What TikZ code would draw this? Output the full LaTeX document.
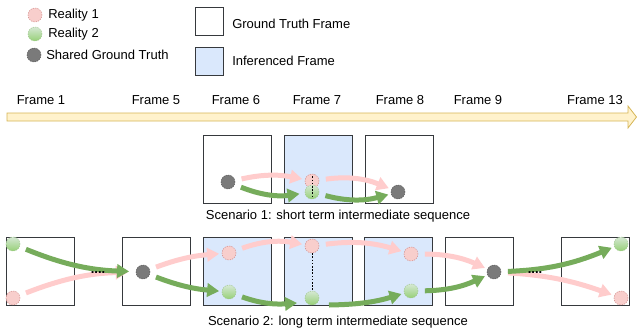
\documentclass[tikz,border=0pt]{standalone}
\usepackage{fontspec}
\setmainfont{Liberation Sans}
\usetikzlibrary{arrows.meta}
\definecolor{pinkF}{HTML}{F8CECC}
\definecolor{pinkS}{HTML}{D08A88}
\definecolor{greenF}{HTML}{D5E8D4}
\definecolor{greenD}{HTML}{97D077}
\definecolor{greenS}{HTML}{9CC58A}
\definecolor{darkF}{HTML}{7A7A7A}
\definecolor{darkS}{HTML}{555555}
\definecolor{blueF}{HTML}{DAE8FC}
\definecolor{frameS}{HTML}{36393D}
\definecolor{pinkA}{HTML}{FFCCCC}
\definecolor{greenA}{HTML}{76AC5B}
\definecolor{tlF}{HTML}{FFF2CC}
\definecolor{tlS}{HTML}{D6B656}
\tikzset{
  lbl/.style={font=\fontsize{9.75}{11.5}\selectfont, inner sep=0pt},
  dot/.style={circle, minimum size=10.5pt, inner sep=0pt, line width=0.4pt, dash pattern=on 0.9pt off 0.9pt},
  rone/.style={dot, fill=pinkF, draw=pinkS},
  rtwo/.style={dot, top color=greenF, bottom color=greenD, draw=greenS},
  shared/.style={dot, fill=darkF, draw=darkS},
  gtframe/.style={draw=frameS, fill=white, minimum size=51pt, inner sep=0pt, line width=0.75pt},
  inframe/.style={gtframe, fill=blueF},
  conn/.style={line width=3.75pt, -{Triangle[length=9pt,width=10pt]}, shorten <=5pt, shorten >=2pt},
  parrow/.style={conn, draw=pinkA},
  garrow/.style={conn, draw=greenA},
  link/.style={line width=0.6pt, dash pattern=on 1.2pt off 1.2pt, black},
  dots/.style={font=\fontsize{9.75}{11.5}\selectfont\bfseries, inner sep=0pt, anchor=base}
}
\begin{document}
\begin{tikzpicture}[x=0.75pt,y=0.75pt]
\useasboundingbox (0,0) rectangle (637,-333);
% legend
\node[rone] (lr1) at (35,-15) {};
\node[rtwo] (lr2) at (35,-34) {};
\node[shared] (lsh) at (34,-55) {};
\node[lbl, anchor=west] (tr1) at (48,-15) {Reality 1};
\node[lbl, anchor=west] (tr2) at (48,-34) {Reality 2};
\node[lbl, anchor=west] (tsh) at (46,-55) {Shared Ground Truth};
\node[gtframe, minimum size=21pt] (lgt) at (209.5,-21.5) {};
\node[inframe, minimum size=21pt] (lin) at (209.5,-61) {};
\node[lbl, anchor=west] (tgt) at (232,-24) {Ground Truth Frame};
\node[lbl, anchor=west] (tin) at (232,-61) {Inferenced Frame};
% timeline
\draw[fill=tlF, draw=tlS, line width=0.6pt] (7,-113) -- (628,-113) -- (628,-106) -- (636.5,-117) -- (628,-128) -- (628,-121) -- (7,-121) -- cycle;
\node[lbl] (fr1) at (41,-100) {Frame 1};
\node[lbl] (fr5) at (156,-100) {Frame 5};
\node[lbl] (fr6) at (236,-100) {Frame 6};
\node[lbl] (fr7) at (317,-100) {Frame 7};
\node[lbl] (fr8) at (400,-100) {Frame 8};
\node[lbl] (fr9) at (478,-100) {Frame 9};
\node[lbl] (fr13) at (595,-100) {Frame 13};
% scenario 1
\node[gtframe] (sa) at (237,-169) {};
\node[inframe] (sb) at (318,-169) {};
\node[gtframe] (sc) at (399,-169) {};
\node[shared] (ad) at (228,-182) {};
\node[rone] (bp) at (312,-181) {};
\node[rtwo] (bg) at (312,-192) {};
\node[shared] (cd) at (398,-192) {};
\draw[link] ([yshift=-2pt]bp.north) -- ([yshift=2pt]bg.south);
\draw[parrow] (ad) to[bend left=12] (bp);
\draw[parrow] (bp) to[bend left=15] (cd);
\draw[garrow, shorten >=4pt] (ad) to[bend right=15] (bg);
\draw[garrow] (bg) to[bend right=15] (cd);
\node[lbl] (sc1) at (338,-216) {Scenario 1: short term intermediate sequence};
% scenario 2
\node[gtframe] (f1) at (40,-271) {};
\node[gtframe] (f5) at (156,-271) {};
\node[inframe] (f6) at (237,-271) {};
\node[inframe] (f7) at (318,-271) {};
\node[inframe] (f8) at (398.5,-271) {};
\node[gtframe] (f9) at (479,-271) {};
\node[gtframe] (f13) at (595.5,-271) {};
\node[rtwo] (g1) at (13,-244) {};
\node[rone] (p1) at (13,-298) {};
\node[shared] (d5) at (143,-272) {};
\node[rone] (p6) at (229,-253) {};
\node[rtwo] (g6) at (229,-292) {};
\node[rone] (p7) at (312,-246) {};
\node[rtwo] (g7) at (312,-298) {};
\node[rone] (p8) at (411,-254) {};
\node[rtwo] (g8) at (411,-291) {};
\node[shared] (d9) at (494,-272) {};
\node[rtwo] (g13) at (621,-244) {};
\node[rone] (p13) at (621,-298) {};
\coordinate (g7in) at (297,-303);
\coordinate (g7out) at (329,-305);
\draw[link] (p7) -- (g7);
\draw[parrow, shorten >=6pt] (p1) to[bend left=10] (d5);
\draw[parrow] (d5) to[bend left=8] (p6);
\draw[parrow] (p6) to[bend left=15] (p7);
\draw[parrow] (p7) to[bend left=12] (p8);
\draw[parrow] (p8) to[bend left=12] (d9);
\draw[parrow] (d9) to[bend left=8] (p13);
\draw[garrow, shorten >=5pt] (g1) to[bend right=10] (d5);
\draw[garrow] (d5) to[bend right=8] (g6);
\draw[garrow, shorten >=0pt] (g6) to[bend right=12] (g7in);
\draw[garrow, shorten <=0pt] (g7out) to[bend right=8] (g8);
\draw[garrow] (g8) to[bend right=12] (d9);
\draw[garrow] (d9) to[bend right=10] (g13);
\node[dots] (dt1) at (98,-273.5) {....};
\node[dots] (dt2) at (535,-273.5) {....};
\node[lbl] (sc2) at (338,-322) {Scenario 2: long term intermediate sequence};
\end{tikzpicture}
\end{document}
